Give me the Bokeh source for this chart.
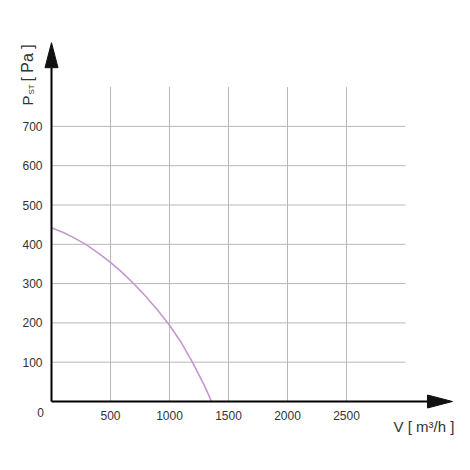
from bokeh.plotting import figure
from bokeh.models import Range1d, FixedTicker, Label
from bokeh.embed import file_html
from bokeh.resources import INLINE

# ---- data ----
flow = [0, 100, 200, 300, 400, 500, 600, 700, 800, 900, 1000, 1100, 1200, 1300, 1356]
pressure = [442, 430, 415, 398, 377, 354, 328, 299, 267, 232, 194, 150, 97, 38, 0]
x_ticks = [500, 1000, 1500, 2000, 2500]
y_ticks = [100, 200, 300, 400, 500, 600, 700]
x_grid_end = 3000
y_grid_end = 800
x_axis_end = 3398
y_axis_end = 913

FONT = "Liberation Sans"
TXT = "#333333"

W = H = 470
ox, oy = 51, 401          # pixel position of the origin
px_x, px_y = 0.118, 0.393  # pixels per data unit

p = figure(width=W, height=H, output_backend="svg", toolbar_location=None,
           x_range=Range1d(-ox / px_x, (W - ox) / px_x),
           y_range=Range1d(-(H - oy) / px_y, oy / px_y),
           min_border=0)
p.min_border_left = p.min_border_right = p.min_border_top = p.min_border_bottom = 0
p.outline_line_color = None
p.background_fill_color = "white"
p.border_fill_color = "white"
p.xgrid.visible = False
p.ygrid.visible = False

# axes (labels only), placed at the origin
for ax, ticks in ((p.xaxis[0], x_ticks), (p.yaxis[0], y_ticks)):
    ax.ticker = FixedTicker(ticks=ticks)
    ax.fixed_location = 0
    ax.axis_line_color = None
    ax.major_tick_line_color = None
    ax.minor_tick_line_color = None
    ax.major_tick_out = 0
    ax.major_tick_in = 0
    ax.major_label_text_font = FONT
    ax.major_label_text_font_size = "12px"
    ax.major_label_text_color = TXT
p.xaxis.major_label_standoff = 9
p.yaxis.major_label_standoff = 9

# grid lines limited to the grid box
p.segment(x0=x_ticks, y0=[0] * len(x_ticks), x1=x_ticks, y1=[y_grid_end] * len(x_ticks),
          line_color="#b8b8b8", line_width=1)
p.segment(x0=[0] * len(y_ticks), y0=y_ticks, x1=[x_grid_end] * len(y_ticks), y1=y_ticks,
          line_color="#b8b8b8", line_width=1)

# curve
p.line(flow, pressure, line_color="#c497cf", line_width=1.6)

# axis lines with arrow heads
head_len, head_half = 25, 6.5
hx = head_len / px_x
hy = head_len / px_y
p.line([0, x_axis_end - hx], [0, 0], line_color="black", line_width=2)
p.line([0, 0], [0, y_axis_end - hy], line_color="black", line_width=2)
p.patch([x_axis_end - hx, x_axis_end, x_axis_end - hx],
        [head_half / px_y, 0, -head_half / px_y], fill_color="#111111", line_color="#111111")
p.patch([-head_half / px_x, 0, head_half / px_x],
        [y_axis_end - hy, y_axis_end, y_axis_end - hy], fill_color="#111111", line_color="#111111")

# origin label
p.add_layout(Label(x=-93, y=-28, text="0", text_font=FONT, text_font_size="12px",
                   text_color=TXT, text_align="center", text_baseline="middle"))

# x axis title
p.add_layout(Label(x=2898, y=-64, text="V [ m³/h ]", text_font=FONT, text_font_size="15px",
                   text_color=TXT, text_align="left", text_baseline="alphabetic"))

# y axis title (rotated, with subscript)
ang = 1.5707963
p.add_layout(Label(x=-203, y=753, text="P", text_font=FONT, text_font_size="15px",
                   text_color=TXT, angle=ang, text_align="left", text_baseline="alphabetic"))
p.add_layout(Label(x=-169, y=781, text="ST", text_font=FONT, text_font_size="8px",
                   text_color=TXT, angle=ang, text_align="left", text_baseline="alphabetic"))
p.add_layout(Label(x=-203, y=814, text="[ Pa ]", text_font=FONT, text_font_size="16px",
                   text_color=TXT, angle=ang, text_align="left", text_baseline="alphabetic"))

open("out.html", "w").write(file_html(p, INLINE))
